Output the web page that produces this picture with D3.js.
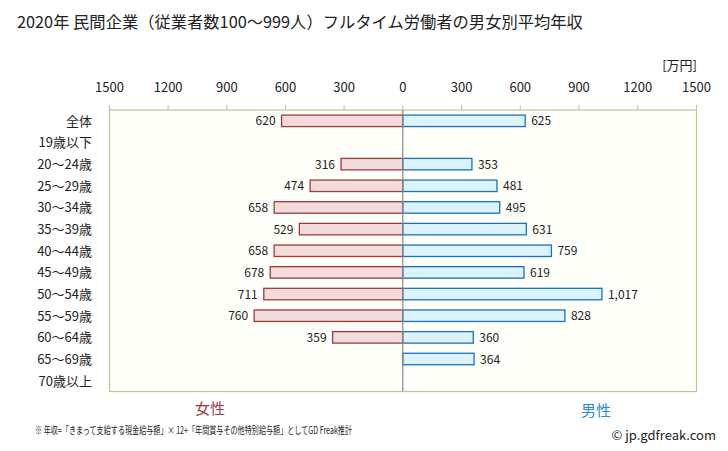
<!DOCTYPE html>
<html><head><meta charset="utf-8">
<script src="https://cdn.jsdelivr.net/npm/d3@7"></script>
<style>
body{margin:0;background:#fff;}
text{font-family:"Noto Sans CJK JP","Noto Sans",sans-serif;}
</style></head>
<body><svg id="c" width="728" height="451"></svg>
<script>
const categories = ["全体","19歳以下","20〜24歳","25〜29歳","30〜34歳","35〜39歳","40〜44歳","45〜49歳","50〜54歳","55〜59歳","60〜64歳","65〜69歳","70歳以上"];
const female = [620,null,316,474,658,529,658,678,711,760,359,null,null];
const male = [625,null,353,481,495,631,759,619,1017,828,360,364,null];
const ticks = [0,300,600,900,1200,1500];

const svg = d3.select("#c");
const L = 109.5, R = 696.5, Z = 402.8, T = 110, B = 391.5;
const xR = d3.scaleLinear().domain([0,1500]).range([Z,R]);
const xL = d3.scaleLinear().domain([0,1500]).range([Z,L]);
const y = d3.scaleBand().domain(categories).range([T,B]).paddingInner(0.47).paddingOuter(0.235);

svg.append("text").attr("x",17).attr("y",28).attr("font-size",16.3).attr("fill","#222")
  .text("2020年 民間企業（従業者数100〜999人）フルタイム労働者の男女別平均年収");

svg.append("rect").attr("x",L).attr("y",T).attr("width",R-L).attr("height",B-T)
  .attr("fill","#fffffa").attr("stroke","#c9c09a").attr("stroke-width",1.2);

// axes ticks
const tg = svg.append("g");
ticks.forEach(t=>{
  const sc = t===0 ? [xR] : [xL,xR];
  sc.forEach(s=>{
    tg.append("line").attr("x1",s(t)).attr("x2",s(t)).attr("y1",T-5).attr("y2",T).attr("stroke","#c9c09a");
    tg.append("text").attr("x",s(t)).attr("y",92).attr("text-anchor","middle").attr("font-size",13).attr("fill","#222").text(t);
  });
});
svg.append("text").attr("x",697).attr("y",70).attr("text-anchor","end").attr("font-size",13).attr("fill","#222").text("[万円]");

// category labels
svg.append("g").selectAll("text").data(categories).join("text")
  .attr("x",92).attr("y",d=>y(d)+y.bandwidth()/2+5).attr("text-anchor","end")
  .attr("font-size",13).attr("fill","#222").text(d=>d);

const fmt = d3.format(",");
// female bars
const fd = categories.map((c,i)=>({c,v:female[i]})).filter(d=>d.v!=null);
svg.append("g").selectAll("rect").data(fd).join("rect")
  .attr("x",d=>xL(d.v)).attr("y",d=>y(d.c)).attr("width",d=>Z-xL(d.v)).attr("height",y.bandwidth())
  .attr("fill","#f2dcdb").attr("stroke","#a33a3a").attr("stroke-width",1.3);
svg.append("g").selectAll("text").data(fd).join("text")
  .attr("x",d=>xL(d.v)-6).attr("y",d=>y(d.c)+y.bandwidth()/2+4.5).attr("text-anchor","end")
  .attr("font-size",12).attr("fill","#222").text(d=>fmt(d.v));

const md = categories.map((c,i)=>({c,v:male[i]})).filter(d=>d.v!=null);
svg.append("g").selectAll("rect").data(md).join("rect")
  .attr("x",Z).attr("y",d=>y(d.c)).attr("width",d=>xR(d.v)-Z).attr("height",y.bandwidth())
  .attr("fill","#dbf3fd").attr("stroke","#1a72bb").attr("stroke-width",1.3);
svg.append("g").selectAll("text").data(md).join("text")
  .attr("x",d=>xR(d.v)+6).attr("y",d=>y(d.c)+y.bandwidth()/2+4.5).attr("text-anchor","start")
  .attr("font-size",12).attr("fill","#222").text(d=>fmt(d.v));

svg.append("line").attr("x1",Z).attr("x2",Z).attr("y1",T).attr("y2",B).attr("stroke","#888").attr("stroke-width",1.2);

svg.append("text").attr("x",210).attr("y",414).attr("text-anchor","middle").attr("font-size",15).attr("fill","#a33a3a").text("女性");
svg.append("text").attr("x",596).attr("y",416).attr("text-anchor","middle").attr("font-size",15).attr("fill","#2a8ad0").text("男性");
svg.append("text").attr("x",35).attr("y",434).attr("font-size",10).attr("fill","#222")
  .attr("textLength",317).attr("lengthAdjust","spacingAndGlyphs")
  .text("※ 年収=「きまって支給する現金給与額」× 12+「年間賞与その他特別給与額」としてGD Freak推計");
svg.append("text").attr("x",716).attr("y",440).attr("text-anchor","end").attr("font-size",13).attr("fill","#222").text("© jp.gdfreak.com");
</script></body></html>
